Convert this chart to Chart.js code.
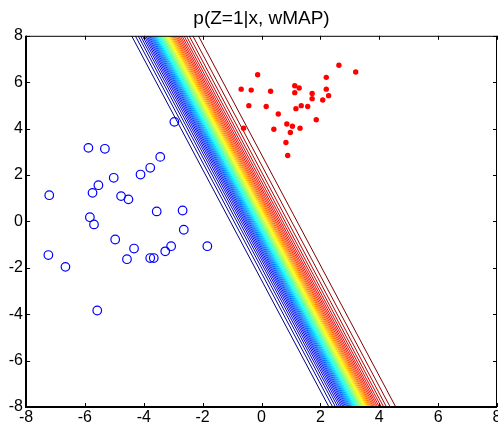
<!DOCTYPE html>
<html>
<head>
<meta charset="utf-8">
<script src="https://cdn.jsdelivr.net/npm/chart.js@4.4.1/dist/chart.umd.min.js"></script>
<style>
  html, body { margin: 0; padding: 0; background: #fff; }
  #wrap { width: 498px; height: 430px; }
</style>
</head>
<body>
<div id="wrap"><canvas id="mapChart" width="498" height="430"></canvas></div>
<script>
// class 0 samples (blue circles)
const blueX = [-5.88, -5.32, -7.21, -5.02, -5.54, -5.74, -4.77, -4.52, -4.11, -3.78, -3.44, -3.56, -2.68, -2.64,
  -5.83, -5.69, -4.97, -4.33, -4.57, -3.78, -3.66, -3.27, -3.07, -1.84, -7.24, -6.66, -5.58, -2.96];
const blueY = [3.17, 3.13, 1.13, 1.88, 1.56, 1.23, 1.09, 0.95, 2.02, 2.31, 2.78, 0.43, 0.47, -0.36,
  0.18, -0.13, -0.78, -1.17, -1.63, -1.58, -1.58, -1.29, -1.07, -1.07, -1.45, -1.96, -3.84, 4.29];

// class 1 samples (red dots)
const redX = [-0.13, -0.69, -0.35, 0.31, -0.43, 0.16, 0.57, -0.61, 0.42, 0.86, 1.05, 0.98, 0.83, 0.89, 1.31,
  1.17, 1.35, 1.57, 1.13, 1.28, 1.13, 1.72, 1.72, 2.08, 2.28, 2.20, 2.20, 1.86, 2.63, 3.20];
const redY = [6.32, 5.70, 5.66, 5.61, 4.99, 4.95, 4.63, 4.02, 3.97, 4.20, 4.10, 3.83, 3.40, 2.84, 4.02,
  4.86, 4.99, 4.95, 5.85, 5.75, 5.55, 5.51, 5.29, 5.23, 5.42, 5.70, 6.21, 4.38, 6.73, 6.44];

const wMAP = [0.057, 2.83, 1.186];
// contour levels of p(Z=1|x, wMAP)
const levels = [0.05, 0.07, 0.09, 0.11, 0.13, 0.15, 0.17, 0.19, 0.21, 0.23, 0.25, 0.27, 0.29, 0.31,
  0.33, 0.35, 0.37, 0.39, 0.41, 0.43, 0.45, 0.47, 0.49, 0.51, 0.53, 0.55, 0.57, 0.59, 0.61, 0.63, 0.65,
  0.67, 0.69, 0.71, 0.73, 0.75, 0.77, 0.79, 0.81, 0.83, 0.85, 0.87, 0.89, 0.91, 0.93, 0.95, 0.97];

const xTicks = [-8, -6, -4, -2, 0, 2, 4, 6, 8];
const yTicks = [-8, -6, -4, -2, 0, 2, 4, 6, 8];

function jet(t) {
  const c = v => Math.round(255 * Math.max(0, Math.min(1, v)));
  return 'rgb(' + c(1.5 - Math.abs(4 * t - 3)) + ',' + c(1.5 - Math.abs(4 * t - 2)) + ',' + c(1.5 - Math.abs(4 * t - 1)) + ')';
}

// one straight contour per level: w0 + w1*x + w2*y = logit(p)
const contourSets = levels.map((p, i) => {
  const g = Math.log(p / (1 - p));
  const xAt = y => (g - wMAP[0] - wMAP[2] * y) / wMAP[1];
  return {
    type: 'line',
    data: [{ x: xAt(8), y: 8 }, { x: xAt(-8), y: -8 }],
    borderColor: jet(i / (levels.length - 1)),
    borderWidth: 1,
    pointRadius: 0,
    fill: false,
    order: 2
  };
});

const frame = {
  id: 'frame',
  afterDraw(chart) {
    const { ctx, chartArea: a, scales } = chart;
    ctx.save();
    ctx.strokeStyle = '#000';
    ctx.lineWidth = 1;
    xTicks.forEach(v => {
      const px = Math.round(scales.x.getPixelForValue(v)) + 0.5;
      ctx.beginPath();
      ctx.moveTo(px, a.bottom); ctx.lineTo(px, a.bottom - 4);
      ctx.moveTo(px, a.top); ctx.lineTo(px, a.top + 4);
      ctx.stroke();
    });
    yTicks.forEach(v => {
      const py = Math.round(scales.y.getPixelForValue(v)) + 0.5;
      ctx.beginPath();
      ctx.moveTo(a.left, py); ctx.lineTo(a.left + 4, py);
      ctx.moveTo(a.right, py); ctx.lineTo(a.right - 4, py);
      ctx.stroke();
    });
    ctx.beginPath();
    ctx.moveTo(a.left, a.top + 0.5); ctx.lineTo(a.right, a.top + 0.5);
    ctx.moveTo(a.right - 0.5, a.top); ctx.lineTo(a.right - 0.5, a.bottom);
    ctx.stroke();
    ctx.lineWidth = 2;
    ctx.beginPath();
    ctx.moveTo(a.left, a.top); ctx.lineTo(a.left, a.bottom);
    ctx.lineTo(a.right, a.bottom);
    ctx.stroke();
    ctx.restore();
  }
};

function noPad(scale) {
  scale.paddingLeft = 0; scale.paddingRight = 0;
  scale.paddingTop = 0; scale.paddingBottom = 0;
}

const ctx = document.getElementById('mapChart').getContext('2d');
new Chart(ctx, {
  type: 'scatter',
  data: {
    datasets: [
      ...contourSets,
      {
        label: 'Z=0',
        data: blueX.map((x, i) => ({ x: x, y: blueY[i] })),
        pointStyle: 'circle',
        pointRadius: 4.3,
        borderColor: '#0000ff',
        borderWidth: 1.2,
        backgroundColor: 'rgba(0,0,0,0)',
        order: 1
      },
      {
        label: 'Z=1',
        data: redX.map((x, i) => ({ x: x, y: redY[i] })),
        pointRadius: 2.7,
        borderWidth: 0,
        backgroundColor: '#ff0000',
        order: 0
      }
    ]
  },
  options: {
    responsive: false,
    animation: false,
    layout: { autoPadding: false, padding: { left: 0, right: 1, top: 0, bottom: 0 } },
    plugins: {
      legend: { display: false },
      tooltip: { enabled: false },
      title: {
        display: true,
        text: 'p(Z=1|x, wMAP)',
        fullSize: false,
        color: '#000',
        font: { family: 'Liberation Sans, Arial, sans-serif', size: 19, weight: 'normal' },
        padding: { top: 7, bottom: 6 }
      }
    },
    scales: {
      x: {
        type: 'linear',
        min: -8, max: 8,
        afterBuildTicks: s => { s.ticks = xTicks.map(v => ({ value: v })); },
        afterFit: s => { s.height = 23; noPad(s); },
        grid: { display: false, drawTicks: false },
        border: { display: false },
        ticks: { color: '#000', padding: 1, maxRotation: 0, font: { family: 'Liberation Sans, Arial, sans-serif', size: 16 } }
      },
      y: {
        type: 'linear',
        min: -8, max: 8,
        afterBuildTicks: s => { s.ticks = yTicks.map(v => ({ value: v })); },
        afterFit: s => { s.width = 26; noPad(s); },
        grid: { display: false, drawTicks: false },
        border: { display: false },
        ticks: { color: '#000', padding: 3, font: { family: 'Liberation Sans, Arial, sans-serif', size: 16 } }
      }
    }
  },
  plugins: [frame]
});
</script>
</body>
</html>
